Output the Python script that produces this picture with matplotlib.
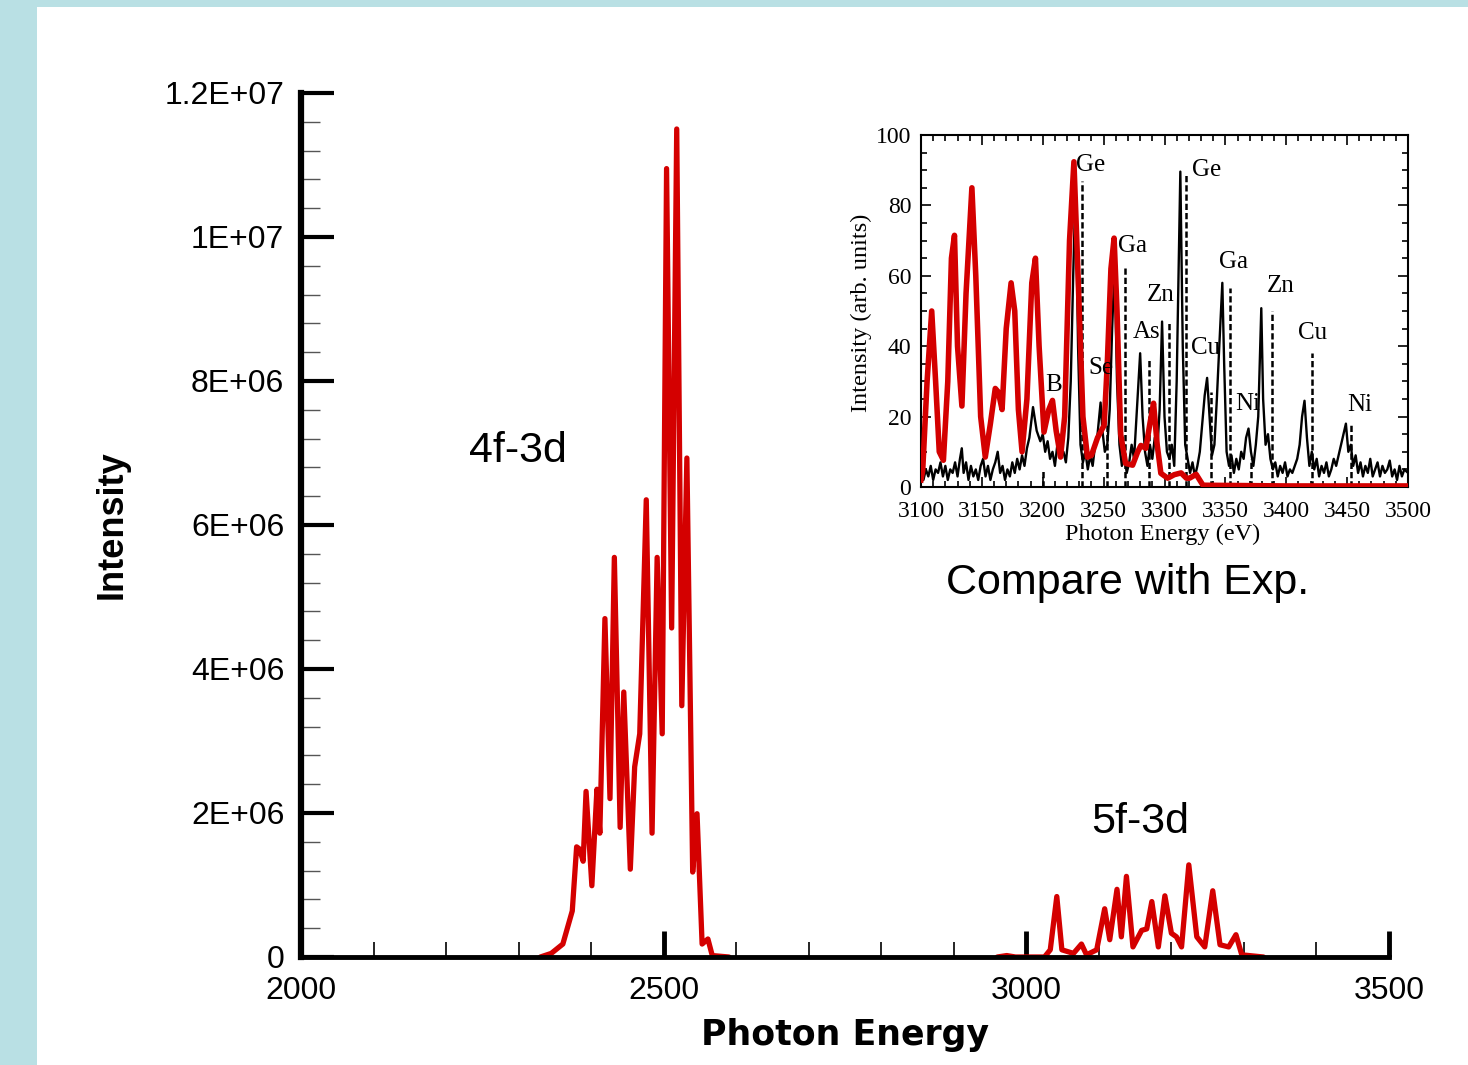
import matplotlib
matplotlib.use('Agg')
import matplotlib.pyplot as plt
from matplotlib.ticker import MultipleLocator
from matplotlib.patches import Rectangle

plt.rcParams['font.family'] = ['Liberation Sans', 'DejaVu Sans']

# --- main spectrum (calculated), intensity in units of 1E6 ---
# 4f-3d band
energy_4f = [2330, 2345, 2361, 2374, 2380, 2384, 2389, 2393, 2401, 2408, 2412,
             2419, 2426, 2432, 2440, 2445, 2454, 2460, 2467, 2476, 2484, 2491, 2498,
             2504, 2511, 2518, 2525, 2532, 2540, 2546, 2553, 2561, 2567, 2590]
intensity_4f = [0, 0.05, 0.18, 0.64, 1.53, 1.5, 1.33, 2.3, 0.99, 2.33, 1.72,
                4.7, 2.2, 5.55, 1.8, 3.68, 1.22, 2.64, 3.1, 6.35, 1.72, 5.55, 3.1,
                10.95, 4.57, 11.5, 3.49, 6.93, 1.18, 1.99, 0.18, 0.25, 0.02, 0]
# 5f-3d band
energy_5f = [2960, 2973, 2985, 3025, 3033, 3042, 3049, 3065, 3076, 3083, 3097, 3108,
             3115, 3125, 3131, 3138, 3147, 3159, 3166, 3173, 3182, 3191, 3200, 3207,
             3214, 3224, 3235, 3246, 3257, 3267, 3279, 3289, 3297, 3327]
intensity_5f = [0, 0.02, 0, 0, 0.1, 0.84, 0.1, 0.05, 0.18, 0.03, 0.1, 0.67,
                0.24, 0.94, 0.28, 1.12, 0.14, 0.37, 0.39, 0.77, 0.14, 0.85, 0.33, 0.28,
                0.14, 1.28, 0.28, 0.14, 0.92, 0.17, 0.14, 0.31, 0.03, 0]
yticks = [0, 2e6, 4e6, 6e6, 8e6, 1e7, 1.2e7]
ytick_labels = ['0', '2E+06', '4E+06', '6E+06', '8E+06', '1E+07', '1.2E+07']
xticks = [2000, 2500, 3000, 3500]

# --- inset: experiment (black), lines (dashed), shifted calculation (red) ---
exp_e = [3100, 3102, 3104, 3106, 3108, 3110, 3112, 3114, 3116, 3118, 3120, 3122,
         3124, 3126, 3128, 3130, 3132, 3133.5, 3135, 3137, 3139, 3141, 3143, 3145,
         3147, 3149, 3151, 3153, 3155, 3157, 3159, 3161, 3163, 3165, 3167, 3169,
         3171, 3173, 3175, 3177, 3179, 3181, 3183, 3185, 3187, 3189, 3192, 3195,
         3198, 3200, 3202, 3204, 3206, 3208, 3210, 3213, 3215, 3217, 3219, 3221,
         3223, 3225, 3227, 3229, 3231, 3233, 3235, 3237, 3239, 3241, 3243, 3245,
         3247.5, 3249, 3251, 3253, 3255, 3257, 3259, 3261, 3263, 3265, 3267, 3269,
         3271, 3273, 3275, 3277, 3280, 3282, 3284, 3286, 3288, 3290, 3292, 3294,
         3296, 3298, 3300, 3302, 3304, 3306, 3308, 3310, 3313, 3315, 3317, 3319,
         3321, 3323, 3325, 3327, 3329, 3331, 3333, 3335, 3337, 3339, 3341, 3343,
         3345, 3347.5, 3349, 3351, 3353, 3355, 3357, 3359, 3361, 3363, 3365, 3367,
         3369, 3371, 3373, 3375, 3377, 3379.5, 3381, 3383, 3385, 3387, 3389, 3391,
         3393, 3395, 3397, 3399, 3401, 3403, 3405, 3407, 3409, 3411, 3413, 3415,
         3417, 3419, 3421, 3423, 3425, 3427, 3429, 3431, 3433, 3435, 3437, 3439,
         3441, 3443, 3445, 3447, 3449, 3451, 3453, 3455, 3457, 3459, 3461, 3463,
         3465, 3467, 3469, 3471, 3473, 3475, 3477, 3479, 3481, 3483, 3485, 3487,
         3489, 3491, 3493, 3495, 3497, 3500]
exp_i = [4, 2, 5, 3, 6, 2, 5, 4, 7, 3, 6, 2,
         5, 4, 7, 3, 8, 11, 4, 7, 2, 6, 3, 5,
         2, 6, 8, 3, 6, 2, 5, 7, 10, 4, 6, 2,
         5, 3, 7, 4, 8, 5, 9, 6, 11, 14, 22.7, 16,
         13, 15, 10, 13, 8, 10, 6, 15, 9, 10, 7, 14,
         30, 60, 86, 40, 12, 7, 10, 5, 9, 6, 12, 15,
         24, 16, 10, 12, 22, 45, 63, 30, 12, 6, 9, 4,
         7, 12, 8, 20, 38, 20, 10, 6, 12, 8, 14, 10,
         22, 47, 20, 10, 8, 12, 6, 30, 89.6, 40, 12, 8,
         4, 7, 3, 6, 10, 18, 26, 31, 20, 9, 12, 25,
         40, 58, 35, 10, 6, 9, 4, 8, 5, 10, 8, 14,
         16.6, 10, 6, 12, 20, 50.8, 25, 12, 15, 8, 5, 7,
         3, 6, 4, 7, 3, 5, 4, 6, 8, 12, 20, 24.5,
         14, 6, 10, 5, 8, 3, 6, 4, 7, 3, 5, 8,
         6, 9, 12, 15, 18, 10, 12, 6, 9, 4, 7, 3,
         6, 4, 8, 3, 5, 7, 3, 6, 4, 5, 7.5, 3,
         5, 2, 6, 3, 5, 4]
line_e = [3200, 3232, 3253, 3267.5, 3287, 3304, 3318, 3338, 3353.5, 3371, 3388, 3421, 3453]
line_i = [5, 87, 18, 62.5, 36, 47, 89, 27, 56.5, 8, 50, 38, 18]
calc_e = [3100, 3101.4, 3105, 3108.8, 3112, 3115, 3118.4, 3122, 3125, 3127.5, 3130,
          3133.6, 3137, 3141.8, 3145, 3149, 3152.8, 3157, 3161, 3163.5, 3166.6,
          3170, 3174, 3177, 3180, 3183, 3187, 3191, 3194, 3197, 3201, 3205, 3208,
          3211, 3214.6, 3218, 3222, 3225.6, 3229, 3233, 3236.7, 3240, 3245, 3250.4,
          3253, 3256, 3258.6, 3261, 3264, 3268, 3273.8, 3278, 3280.6, 3284.7, 3288,
          3291, 3294, 3297, 3302.6, 3308, 3313.6, 3318, 3320.5, 3326, 3331.6, 3400, 3500]
calc_i = [2, 4.7, 30, 50, 30, 10, 7.6, 30, 65, 71.5, 40,
          23, 55, 85, 60, 20, 8.5, 18, 28, 27, 22,
          45, 58, 50, 22, 10, 25, 58, 65, 40, 15.6, 22, 24.6,
          16, 8.5, 20, 70, 92.4, 60, 20, 8.5, 9, 14, 17.5,
          35, 62, 70.7, 50, 15, 6.7, 6.2, 10, 11.8, 11, 18,
          23.8, 12, 3.9, 2.5, 3.5, 4, 2.5, 2.5, 3.6, 0.5, 0.3, 0.3]
peak_names = ['Ge', 'Ga', 'Zn', 'As', 'Se', 'B', 'Ge', 'Cu', 'Ga', 'Ni', 'Zn', 'Cu', 'Ni']
peak_x = [3239, 3274, 3297, 3285, 3248, 3209, 3335, 3334, 3356.5, 3368, 3395, 3421.6, 3460]
peak_y = [91.6, 68.5, 54.6, 44, 33.8, 29, 90, 39.5, 64, 23.6, 57, 43.8, 23.3]

RED = '#d40000'
W, H = 1468, 1065

fig = plt.figure(figsize=(W / 100, H / 100), dpi=100, facecolor='#b9e0e4')
fig.patches.append(Rectangle((37 / W, 0), 1, 1 - 7 / H, transform=fig.transFigure,
                             facecolor='white', edgecolor='none', zorder=-1))

# main axes
ax = fig.add_axes([301 / W, 1 - 957 / H, 1088 / W, 864 / H])
ax.set_facecolor('none')
for e, v in [(energy_4f, intensity_4f), (energy_5f, intensity_5f)]:
    ax.plot(e, [i * 1e6 for i in v], color=RED, lw=3.8,
            solid_joinstyle='round', solid_capstyle='round', zorder=2)
ax.set_xlim(2000, 3500)
ax.set_ylim(0, 1.2e7)
ax.set_xticks(xticks, [str(t) for t in xticks])
ax.set_yticks(yticks, ytick_labels)
ax.xaxis.set_minor_locator(MultipleLocator(100))
ax.yaxis.set_minor_locator(MultipleLocator(4e5))
ax.tick_params(axis='x', which='major', direction='in', length=19, width=3.5,
               labelsize=23, pad=14)
ax.tick_params(axis='x', which='minor', direction='in', length=11, width=1.2)
ax.tick_params(axis='y', which='major', direction='in', length=24, width=3,
               labelsize=23, pad=12)
ax.tick_params(axis='y', which='minor', direction='in', length=14, width=1,
               color='#555555')
for s in ['top', 'right']:
    ax.spines[s].set_visible(False)
ax.spines['left'].set_linewidth(4.5)
ax.spines['bottom'].set_linewidth(3.5)

ax.text(2299, 7.03e6, '4f-3d', fontsize=31, ha='center', va='center')
ax.text(3157, 1.87e6, '5f-3d', fontsize=31, ha='center', va='center')
ax.text(3140, 5.19e6, 'Compare with Exp.', fontsize=31, ha='center', va='center')

fig.text(112 / W, 1 - 525 / H, 'Intensity', rotation=90, fontsize=26,
         fontweight='bold', ha='center', va='center')
fig.text(845 / W, 1 - 1035 / H, 'Photon Energy', fontsize=25, fontweight='bold',
         family='DejaVu Sans', ha='center', va='center')

# inset with the experimental comparison
axin = fig.add_axes([921 / W, 1 - 487 / H, 487 / W, 352 / H])
axin.plot(exp_e, exp_i, color='black', lw=1.7, zorder=2)
axin.vlines(line_e, 0, line_i, colors='black', linestyles=(0, (2.5, 1.2)), lw=1.8, zorder=2)
axin.plot(calc_e, calc_i, color=RED, lw=4, solid_joinstyle='round', zorder=3)
axin.set_xlim(3100, 3500)
axin.set_ylim(0, 100)
axin.xaxis.set_major_locator(MultipleLocator(50))
axin.xaxis.set_minor_locator(MultipleLocator(10))
axin.yaxis.set_major_locator(MultipleLocator(20))
axin.yaxis.set_minor_locator(MultipleLocator(5))
axin.tick_params(which='both', direction='in', top=True, right=True,
                 labelsize=17, labelfontfamily='Liberation Serif', width=1.2)
axin.tick_params(which='major', length=7)
axin.tick_params(which='minor', length=4)
axin.tick_params(axis='x', pad=10)
axin.tick_params(axis='y', pad=7)
for s in axin.spines.values():
    s.set_linewidth(1.5)
for name, x, y in zip(peak_names, peak_x, peak_y):
    axin.text(x, y, name, fontsize=18, family='Liberation Serif',
              ha='center', va='center', zorder=4)

fig.text(861 / W, 1 - 313 / H, 'Intensity (arb. units)', rotation=90, fontsize=17.5,
         family='Liberation Serif', ha='center', va='center')
fig.text(1163 / W, 1 - 534 / H, 'Photon Energy (eV)', fontsize=17.5,
         family='Liberation Serif', ha='center', va='center')

fig.savefig('out.png', dpi=100, facecolor=fig.get_facecolor())
